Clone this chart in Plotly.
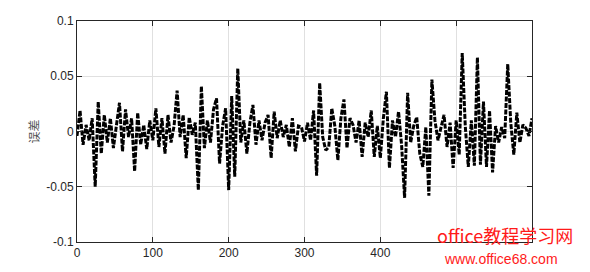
import plotly.graph_objects as go

step = 4
err = [
    -0.004, 0.019, -0.012, 0.006, -0.008, 0.012, -0.050, 0.027, -0.020, 0.015,
    -0.010, 0.012, -0.015, 0.008, 0.026, -0.018, 0.020, -0.005, 0.012, -0.036,
    0.017, -0.012, 0.006, -0.016, 0.010, -0.008, 0.021, -0.014, 0.012, -0.020,
    0.015, -0.010, 0.005, 0.037, -0.005, 0.015, -0.024, 0.013, -0.003, 0.008,
    -0.053, 0.041, -0.015, 0.010, -0.010, 0.020, 0.030, -0.029, 0.005, 0.021,
    -0.053, 0.032, -0.041, 0.057, -0.010, 0.010, -0.020, 0.008, 0.024, -0.012,
    0.010, -0.008, 0.008, 0.015, -0.024, 0.018, -0.006, 0.010, -0.005, 0.006,
    -0.014, 0.012, -0.018, 0.005, 0.004, -0.009, 0.008, -0.008, 0.019, -0.040,
    0.044, -0.005, -0.017, -0.014, 0.021, 0.005, -0.026, 0.012, 0.029, -0.015,
    0.012, 0.006, -0.010, 0.010, -0.023, 0.008, -0.005, 0.019, -0.023, 0.005,
    -0.024, 0.012, 0.036, -0.033, 0.010, -0.005, 0.018, -0.012, -0.060, 0.035,
    -0.010, 0.005, 0.013, -0.020, -0.032, 0.004, -0.058, 0.047, 0.010, -0.008,
    0.005, 0.015, -0.014, 0.008, -0.033, 0.010, -0.021, 0.071, 0.005, -0.032,
    0.010, -0.031, 0.067, -0.030, 0.027, -0.032, 0.019, -0.037, 0.005, -0.010,
    0.004, -0.006, 0.061, 0.008, -0.021, 0.017, -0.010, 0.006, 0.003, -0.004,
    0.012,
]
x = [i * step for i in range(len(err))]

x_ticks = [0, 100, 200, 300, 400, 500, 600]
# 500 and 600 are hidden under the watermark in the reference
x_tick_text = ["0", "100", "200", "300", "400", "", ""]
y_ticks = [-0.1, -0.05, 0, 0.05, 0.1]
y_tick_text = ["-0.1", "-0.05", "0", "0.05", "0.1"]

fig = go.Figure()
fig.add_trace(go.Scatter(
    x=x, y=err, mode="lines",
    line=dict(color="black", width=3, dash="5px,1.5px"),
    showlegend=False,
))

axis_common = dict(
    showline=True, linecolor="#262626", linewidth=1, mirror="ticks",
    ticks="inside", ticklen=5, tickcolor="#262626",
    showgrid=True, gridcolor="#e0e0e0", gridwidth=1, zeroline=False,
    tickfont=dict(family="Liberation Sans, Arial", size=12, color="#262626"),
)

fig.update_layout(
    width=590, height=272,
    margin=dict(l=77, r=58, t=21, b=30),
    paper_bgcolor="white", plot_bgcolor="white",
    xaxis=dict(range=[0, 600], tickvals=x_ticks, ticktext=x_tick_text, **axis_common),
    yaxis=dict(range=[-0.1, 0.1], tickvals=y_ticks, ticktext=y_tick_text,
               title=dict(text="误差", font=dict(family="Noto Sans CJK SC", size=12, color="#555555"), standoff=4),
               **axis_common),
    annotations=[
        dict(text="office教程学习网", xref="paper", yref="paper", x=1.094, y=0.03,
             xanchor="right", yanchor="middle", showarrow=False,
             font=dict(family="Noto Sans CJK SC", size=18, color="#ff1a1a")),
        dict(text="www.office68.com", xref="paper", yref="paper", x=1.062, y=-0.075,
             xanchor="right", yanchor="middle", showarrow=False,
             font=dict(family="Liberation Sans, Arial", size=14, color="#ff1a1a")),
    ],
)

fig.write_html("out.html")
